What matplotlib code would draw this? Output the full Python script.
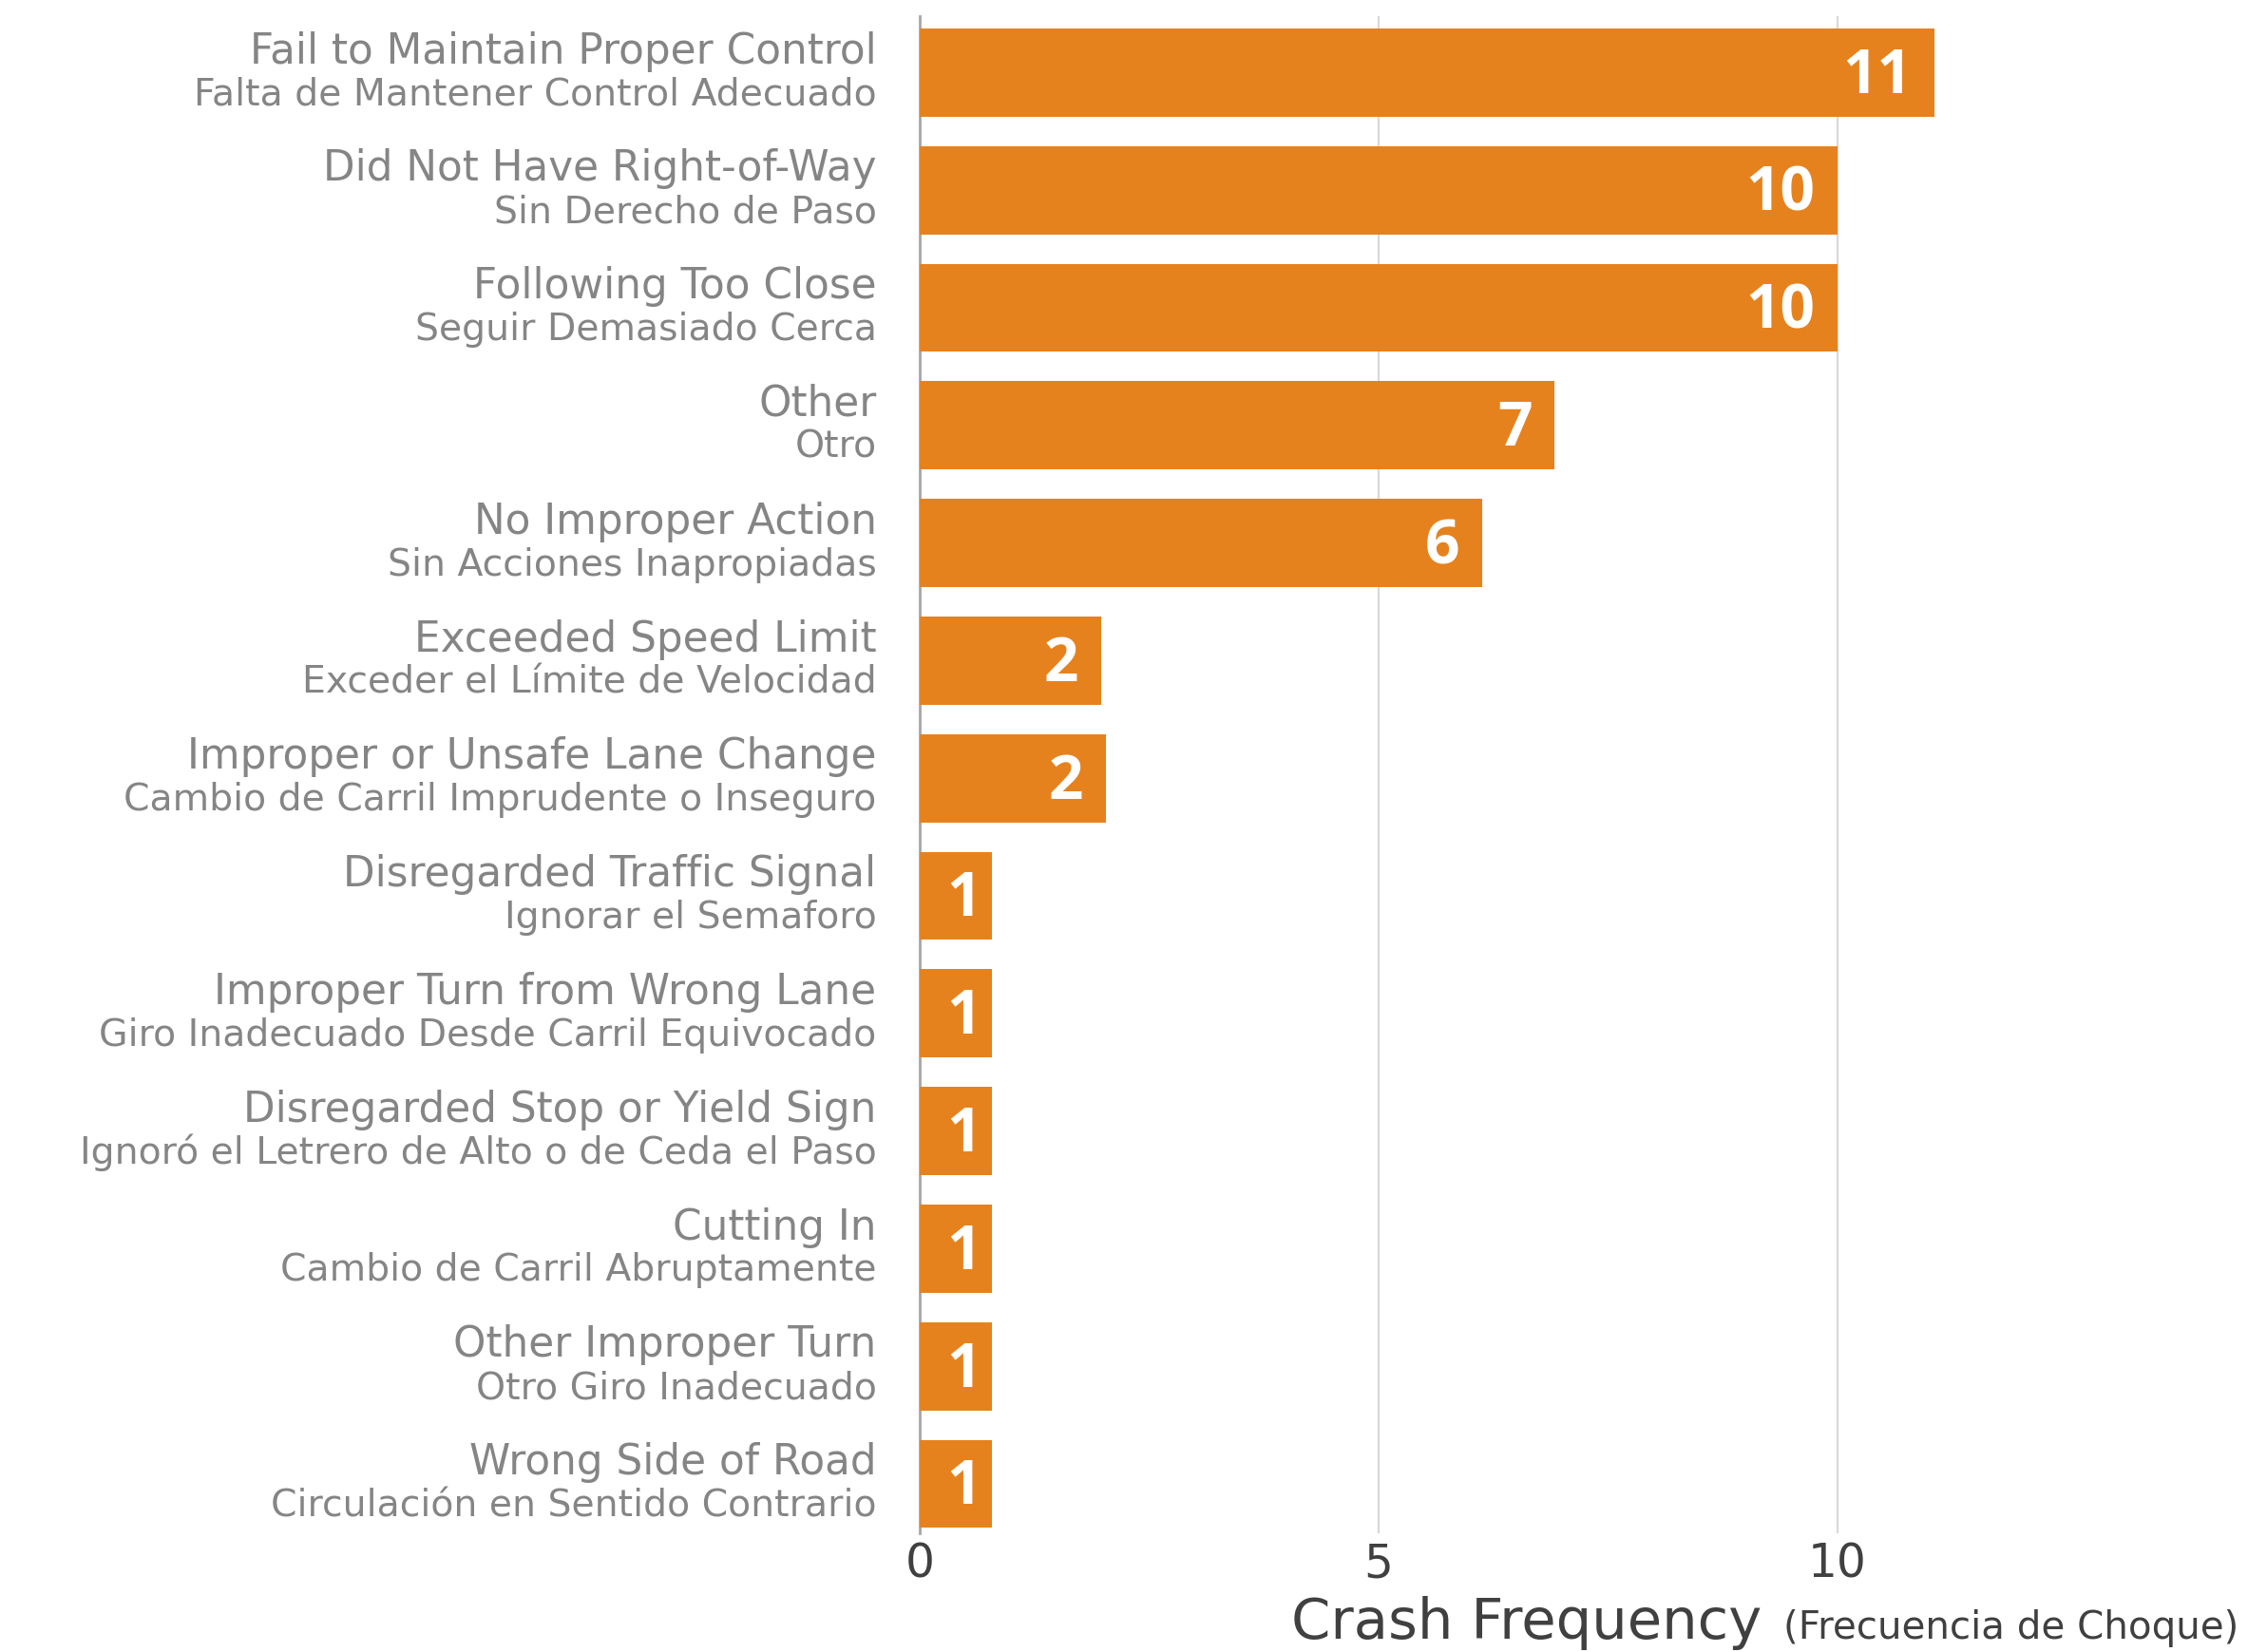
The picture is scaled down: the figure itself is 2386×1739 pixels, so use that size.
import matplotlib
matplotlib.use('Agg')
import matplotlib.pyplot as plt
import numpy as np

# categories (English / Spanish), counts shown, and bar lengths as drawn
cause_en = ['Fail to Maintain Proper Control', 'Did Not Have Right-of-Way',
            'Following Too Close', 'Other', 'No Improper Action',
            'Exceeded Speed Limit', 'Improper or Unsafe Lane Change',
            'Disregarded Traffic Signal', 'Improper Turn from Wrong Lane',
            'Disregarded Stop or Yield Sign', 'Cutting In',
            'Other Improper Turn', 'Wrong Side of Road']
cause_es = ['Falta de Mantener Control Adecuado', 'Sin Derecho de Paso',
            'Seguir Demasiado Cerca', 'Otro', 'Sin Acciones Inapropiadas',
            'Exceder el Límite de Velocidad', 'Cambio de Carril Imprudente o Inseguro',
            'Ignorar el Semaforo', 'Giro Inadecuado Desde Carril Equivocado',
            'Ignoró el Letrero de Alto o de Ceda el Paso', 'Cambio de Carril Abruptamente',
            'Otro Giro Inadecuado', 'Circulación en Sentido Contrario']
counts = [11, 10, 10, 7, 6, 2, 2, 1, 1, 1, 1, 1, 1]
bar_len = [11.06, 10.0, 10.0, 6.92, 6.13, 1.98, 2.03, 0.79, 0.79, 0.79, 0.79, 0.79, 0.79]
xticks = [0, 5, 10]

orange = '#E6821E'
label_gray = '#858585'
dark = '#404040'
fam = 'DejaVu Sans'

W, H = 2386, 1739
fig = plt.figure(figsize=(W / 100, H / 100), dpi=100)
renderer = fig.canvas.get_renderer()


def fit_size(s, target_px, **kw):
    # font size that makes string s about target_px wide
    t = fig.text(0, 0, s, fontsize=10, family=fam, **kw)
    w = t.get_window_extent(renderer).width
    t.remove()
    return 10 * target_px / w


size_en = fit_size(cause_en[0], 662)
size_es = fit_size(cause_es[0], 738) * 0.975
size_ax = fit_size('Crash Frequency', 495)
size_ax2 = fit_size('(Frecuencia de Choque)', 479)

x0, y0, y1 = 968, 1614, 17
px_per_unit = 96.6
xmax = 14.0
ax = fig.add_axes([x0 / W, 1 - y0 / H, xmax * px_per_unit / W, (y0 - y1) / H])

y = np.arange(len(counts))
ax.barh(y, bar_len, height=0.75, color=orange, zorder=3)
ax.set_ylim(12.42, -0.48)
ax.set_xlim(0, xmax)

for xv in [5, 10]:
    ax.axvline(xv, color='#d9d9d9', lw=1.6, zorder=1)

for sp in ['top', 'right', 'bottom']:
    ax.spines[sp].set_visible(False)
ax.spines['left'].set_color('#a6a6a6')
ax.spines['left'].set_linewidth(2)
ax.spines['left'].set_zorder(2)

ax.set_yticks([])
ax.set_xticks(xticks)
ax.set_xticklabels([str(t) for t in xticks], fontsize=35, color=dark, family=fam)
ax.tick_params(axis='x', length=0, pad=6)

for i in range(len(counts)):
    ax.text(-0.47, i - 0.08, cause_en[i], ha='right', va='baseline',
            fontsize=size_en, color=label_gray, family=fam)
    ax.text(-0.47, i + 0.275, cause_es[i], ha='right', va='baseline',
            fontsize=size_es, color=label_gray, family=fam)
    pad = 0.25 if bar_len[i] > 1.5 else 0.12
    ax.text(bar_len[i] - pad, i + 0.04, str(counts[i]), ha='right', va='center',
            fontsize=46, color='white', fontweight='bold', family='Open Sans', zorder=4)

fig.text(1359 / W, 1 - 1725 / H, 'Crash Frequency', ha='left', va='baseline',
         fontsize=size_ax, color=dark, family=fam)
fig.text(2356 / W, 1 - 1725 / H, '(Frecuencia de Choque)', ha='right', va='baseline',
         fontsize=size_ax2, color=dark, family=fam)

fig.savefig('out.png', dpi=100, facecolor='white')
